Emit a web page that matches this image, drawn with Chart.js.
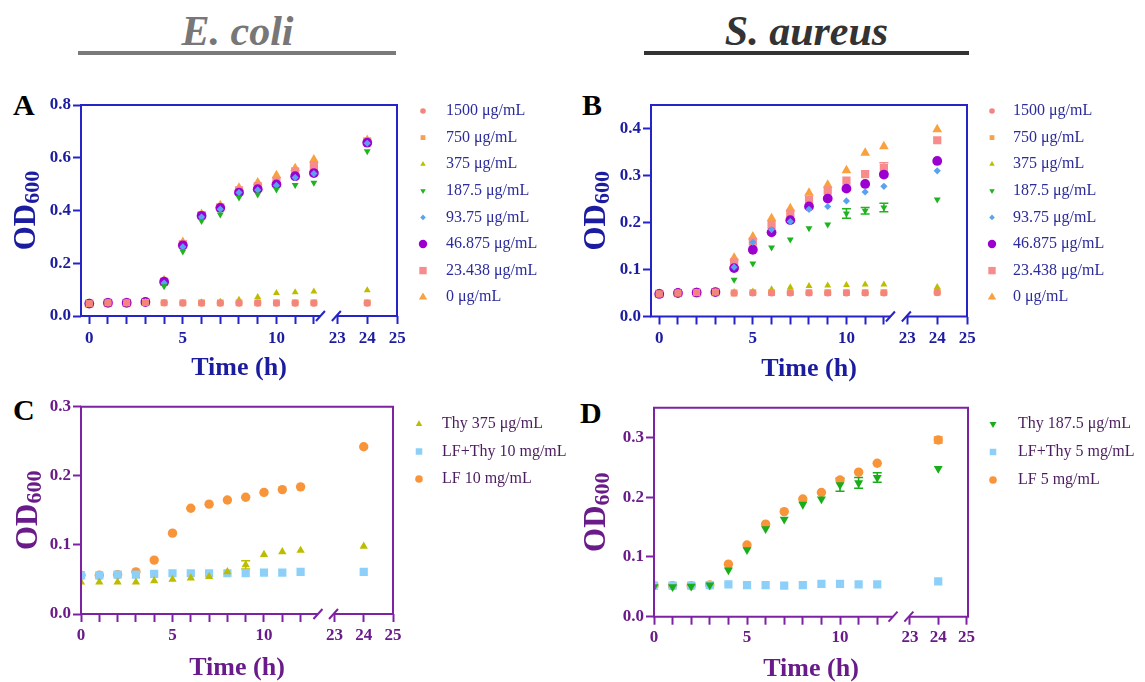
<!DOCTYPE html>
<html>
<head>
<meta charset="utf-8">
<script src="https://cdn.jsdelivr.net/npm/chart.js@4.4.1/dist/chart.umd.min.js"></script>
<style>
  body { margin: 0; background: #fff; width: 1145px; height: 682px; position: relative; overflow: hidden;
         font-family: "Liberation Serif", "Times New Roman", serif; }
  canvas { position: absolute; }
  .head { position: absolute; top: 10px; font-weight: bold; font-style: italic; font-size: 42px; line-height: 42px; text-align: center; }
  .rule { position: absolute; top: 51px; height: 4px; }
  .tag { position: absolute; font-weight: bold; font-size: 30px; line-height: 30px; color: #000; }
</style>
</head>
<body>
<div class="head" style="left:78px;width:319px;color:#777">E. coli</div>
<div class="rule" style="left:78px;width:318px;background:#7a7a7a"></div>
<div class="head" style="left:644px;width:325px;color:#333">S. aureus</div>
<div class="rule" style="left:644px;width:325px;background:#333"></div>
<div class="tag" style="left:13px;top:90px">A</div>
<div class="tag" style="left:582px;top:90px">B</div>
<div class="tag" style="left:13px;top:395px">C</div>
<div class="tag" style="left:580px;top:398px">D</div>

<canvas id="chartA" width="570" height="300" style="left:0;top:90px"></canvas>
<canvas id="chartB" width="575" height="300" style="left:570px;top:90px"></canvas>
<canvas id="chartC" width="570" height="292" style="left:0;top:390px"></canvas>
<canvas id="chartD" width="575" height="292" style="left:570px;top:390px"></canvas>

<script>
// sampling times (h) and x axis ticks
const hours = [0, 1, 2, 3, 4, 5, 6, 7, 8, 9, 10, 11, 12, 24];
const tickHours = [0, 1, 2, 3, 4, 5, 6, 7, 8, 9, 10, 11, 12, 23, 24, 25];
const labelHours = [0, 5, 10, 23, 24, 25];

// A: E. coli, thymol doses
const doseNames = ['1500 μg/mL', '750 μg/mL', '375 μg/mL', '187.5 μg/mL', '93.75 μg/mL', '46.875 μg/mL', '23.438 μg/mL', '0 μg/mL'];
const ecoli1500 = [0.047, 0.050, 0.050, 0.051, 0.050, 0.049, 0.049, 0.049, 0.049, 0.049, 0.049, 0.049, 0.049, 0.049];
const ecoli750 = [0.047, 0.050, 0.050, 0.052, 0.050, 0.050, 0.050, 0.050, 0.050, 0.050, 0.050, 0.050, 0.050, 0.050];
const ecoli375 = [0.047, 0.050, 0.050, 0.053, 0.050, 0.050, 0.052, 0.054, 0.062, 0.072, 0.087, 0.090, 0.093, 0.098];
const ecoli187 = [0.047, 0.050, 0.050, 0.053, 0.113, 0.245, 0.360, 0.385, 0.449, 0.461, 0.480, 0.497, 0.505, 0.625];
const ecoli93 = [0.047, 0.050, 0.050, 0.053, 0.125, 0.262, 0.375, 0.405, 0.468, 0.478, 0.495, 0.525, 0.540, 0.655];
const ecoli46 = [0.047, 0.050, 0.050, 0.053, 0.130, 0.268, 0.380, 0.410, 0.468, 0.481, 0.499, 0.530, 0.542, 0.657];
const ecoli23 = [0.047, 0.050, 0.050, 0.053, 0.130, 0.272, 0.382, 0.412, 0.476, 0.492, 0.512, 0.548, 0.570, 0.662];
const ecoli0 = [0.047, 0.050, 0.050, 0.053, 0.135, 0.280, 0.386, 0.420, 0.486, 0.506, 0.533, 0.560, 0.593, 0.667];
const ecoliTicksY = [0, 0.2, 0.4, 0.6, 0.8];

// B: S. aureus, thymol doses
const saur1500 = [0.048, 0.050, 0.051, 0.052, 0.050, 0.050, 0.050, 0.050, 0.050, 0.050, 0.050, 0.050, 0.050, 0.051];
const saur750 = [0.048, 0.050, 0.051, 0.052, 0.050, 0.051, 0.051, 0.051, 0.051, 0.051, 0.051, 0.051, 0.051, 0.052];
const saur375 = [0.048, 0.050, 0.051, 0.052, 0.052, 0.053, 0.058, 0.062, 0.065, 0.066, 0.067, 0.068, 0.068, 0.063];
const saur187 = [0.048, 0.050, 0.051, 0.052, 0.078, 0.113, 0.147, 0.164, 0.188, 0.196, 0.219, 0.225, 0.232, 0.249];
const saur93 = [0.048, 0.050, 0.051, 0.052, 0.105, 0.158, 0.185, 0.202, 0.228, 0.234, 0.246, 0.265, 0.277, 0.310];
const saur46 = [0.048, 0.050, 0.051, 0.052, 0.103, 0.142, 0.179, 0.205, 0.234, 0.251, 0.272, 0.282, 0.302, 0.331];
const saur23 = [0.048, 0.050, 0.051, 0.052, 0.115, 0.159, 0.195, 0.219, 0.248, 0.268, 0.289, 0.303, 0.316, 0.375];
const saur0 = [0.048, 0.050, 0.051, 0.052, 0.125, 0.170, 0.209, 0.230, 0.263, 0.280, 0.311, 0.348, 0.362, 0.398];
const saur187Err = [0, 0, 0, 0, 0, 0, 0, 0, 0, 0, 0.010, 0.007, 0.009, 0];
const saur23Err = [0, 0, 0, 0, 0, 0, 0, 0, 0, 0, 0, 0, 0.011, 0];
const saurTicksY = [0, 0.1, 0.2, 0.3, 0.4];

// C: E. coli, combination
const comboNamesC = ['Thy 375 μg/mL', 'LF+Thy 10 mg/mL', 'LF 10 mg/mL'];
const ecoliThy = [0.046, 0.046, 0.046, 0.046, 0.048, 0.050, 0.052, 0.054, 0.061, 0.071, 0.086, 0.090, 0.092, 0.098];
const ecoliMix = [0.056, 0.056, 0.057, 0.057, 0.058, 0.059, 0.059, 0.059, 0.059, 0.059, 0.060, 0.060, 0.061, 0.061];
const ecoliLF = [0.056, 0.056, 0.057, 0.061, 0.078, 0.117, 0.153, 0.159, 0.165, 0.169, 0.176, 0.180, 0.184, 0.242];
const ecoliThyErr = [0, 0, 0, 0, 0, 0, 0, 0, 0, 0.006, 0, 0, 0, 0];
const comboTicksC = [0, 0.1, 0.2, 0.3];

// D: S. aureus, combination
const comboNamesD = ['Thy 187.5 μg/mL', 'LF+Thy 5 mg/mL', 'LF 5 mg/mL'];
const saurThy = [0.050, 0.050, 0.051, 0.053, 0.078, 0.112, 0.147, 0.163, 0.188, 0.197, 0.221, 0.224, 0.233, 0.248];
const saurMix = [0.052, 0.052, 0.052, 0.053, 0.054, 0.053, 0.053, 0.052, 0.053, 0.055, 0.055, 0.054, 0.054, 0.059];
const saurLF = [0.052, 0.052, 0.052, 0.053, 0.088, 0.120, 0.155, 0.176, 0.197, 0.208, 0.229, 0.242, 0.257, 0.296];
const saurThyErr = [0, 0, 0, 0, 0, 0, 0, 0, 0, 0, 0.011, 0.009, 0.008, 0];
const saurLFErr = [0, 0, 0, 0, 0, 0, 0, 0, 0, 0, 0, 0, 0, 0.005];
const comboTicksD = [0, 0.1, 0.2, 0.3];

// marker styles (r = plot radius, lr = legend radius)
const doseStyles = [
  { color: '#f3857e', shape: 'circle', r: 3.6, lr: 2.8 },
  { color: '#f7a04e', shape: 'rect', r: 4.8, lr: 3.4 },
  { color: '#bdbd00', shape: 'triangle', r: 4.0, lr: 3.2 },
  { color: '#1fb31f', shape: 'triangle', rot: 180, r: 4.0, lr: 3.2 },
  { color: '#5aa2f0', shape: 'rectRot', r: 3.6, lr: 2.8 },
  { color: '#9b00d0', shape: 'circle', r: 4.9, lr: 4.2 },
  { color: '#f88b8b', shape: 'rect', r: 5.8, lr: 5.2 },
  { color: '#f9a03f', shape: 'triangle', r: 5.6, lr: 4.8 }
];
const comboStylesC = [
  { color: '#bcbc00', shape: 'triangle', r: 4.8, lr: 3.8 },
  { color: '#8ccff8', shape: 'rect', r: 5.8, lr: 4.6 },
  { color: '#f8953a', shape: 'circle', r: 4.7, lr: 3.8 }
];
const comboStylesD = [
  { color: '#1aad1a', shape: 'triangle', rot: 180, r: 5.2, lr: 4.0 },
  { color: '#8ccff8', shape: 'rect', r: 5.8, lr: 4.6 },
  { color: '#f8953a', shape: 'circle', r: 4.7, lr: 3.8 }
];

const blueTheme = { frame: '#2424c8', text: '#1c1ca0', legend: '#2b2b9b' };
const purpleTheme = { frame: '#7d22a3', text: '#6a1b8a', legend: '#4b1d5e' };
const serif = '"Liberation Serif", "Times New Roman", serif';

// frame with broken bottom axis, y title with subscript, legend, error bars
const panelDeco = {
  id: 'panelDeco',
  beforeDatasetsDraw(chart) {
    const ctx = chart.ctx, xs = chart.scales.x, ys = chart.scales.y;
    ctx.save();
    ctx.lineWidth = 1.5;
    chart.data.datasets.forEach(ds => {
      if (!ds.err) return;
      ctx.strokeStyle = ds.backgroundColor;
      ds.data.forEach((p, i) => {
        const e = ds.err[i];
        if (!e) return;
        const x = xs.getPixelForValue(p.x);
        const y1 = ys.getPixelForValue(p.y - e), y2 = ys.getPixelForValue(p.y + e);
        ctx.beginPath();
        ctx.moveTo(x, y1); ctx.lineTo(x, y2);
        ctx.moveTo(x - 4.5, y1); ctx.lineTo(x + 4.5, y1);
        ctx.moveTo(x - 4.5, y2); ctx.lineTo(x + 4.5, y2);
        ctx.stroke();
      });
    });
    ctx.restore();
  },
  afterDraw(chart, args, o) {
    const ctx = chart.ctx, a = chart.chartArea, xs = chart.scales.x;
    ctx.save();
    // frame
    ctx.strokeStyle = o.frame;
    ctx.lineWidth = 2;
    const b1 = xs.getPixelForValue(o.breaks[0]), b2 = xs.getPixelForValue(o.breaks[1]);
    ctx.beginPath();
    ctx.moveTo(b1, a.bottom); ctx.lineTo(a.left, a.bottom); ctx.lineTo(a.left, a.top);
    ctx.lineTo(a.right, a.top); ctx.lineTo(a.right, a.bottom); ctx.lineTo(b2, a.bottom);
    ctx.stroke();
    ctx.beginPath();
    [b1, b2].forEach(b => { ctx.moveTo(b - 4.5, a.bottom + 5); ctx.lineTo(b + 4.5, a.bottom - 5); });
    ctx.stroke();

    // OD600 title
    ctx.fillStyle = o.text;
    ctx.translate(o.odX, (a.top + a.bottom) / 2);
    ctx.rotate(-Math.PI / 2);
    ctx.textBaseline = 'alphabetic';
    ctx.font = 'bold 31px ' + serif;
    const w1 = ctx.measureText('OD').width;
    ctx.font = 'bold 22px ' + serif;
    const w2 = ctx.measureText('600').width;
    ctx.fillText('600', -(w1 + w2) / 2 + w1, 4);
    ctx.font = 'bold 31px ' + serif;
    ctx.fillText('OD', -(w1 + w2) / 2, 0);
    ctx.setTransform(1, 0, 0, 1, 0, 0);

    // legend
    ctx.font = '16px ' + serif;
    ctx.textBaseline = 'middle';
    chart.data.datasets.forEach((ds, i) => {
      const y = o.legY + i * o.legStep;
      ctx.fillStyle = ds.backgroundColor;
      Chart.helpers.drawPoint(ctx, { pointStyle: ds.pointStyle, rotation: ds.rotation, radius: ds.legendRadius, borderWidth: 0 }, o.legX, y);
      ctx.fillStyle = o.legend;
      ctx.fillText(ds.label, o.legTextX, y);
    });
    ctx.restore();
  }
};

function makePanel(id, p) {
  const vx = h => h <= 13 ? h : p.seg2Start + (h - 23) * p.seg2Scale;
  const canvas = document.getElementById(id);
  const datasets = p.series.map((vals, k) => ({
    label: p.names[k],
    data: hours.map((h, i) => ({ x: vx(h), y: vals[i] })),
    err: p.err ? p.err[k] : null,
    backgroundColor: p.styles[k].color,
    borderWidth: 0,
    pointStyle: p.styles[k].shape,
    rotation: p.styles[k].rot || 0,
    pointRadius: p.styles[k].r,
    legendRadius: p.styles[k].lr
  }));
  return new Chart(canvas, {
    type: 'scatter',
    data: { datasets },
    plugins: [panelDeco],
    options: {
      responsive: false,
      animation: false,
      events: [],
      layout: { padding: { left: 0, top: p.area.top, right: canvas.width - p.area.right, bottom: 0 } },
      plugins: {
        legend: { display: false },
        tooltip: { enabled: false },
        panelDeco: {
          frame: p.theme.frame, text: p.theme.text, legend: p.theme.legend,
          breaks: p.breaks, odX: p.odX,
          legX: p.legX, legTextX: p.legTextX, legY: p.legY, legStep: p.legStep
        }
      },
      scales: {
        x: {
          type: 'linear',
          min: p.xMin, max: p.xMax,
          afterBuildTicks: s => { s.ticks = tickHours.map(h => ({ value: vx(h) })); },
          afterFit: s => { s.height = canvas.height - p.area.bottom; },
          border: { display: false },
          grid: { display: true, drawOnChartArea: false, tickLength: 8, tickColor: p.theme.frame, tickWidth: 2 },
          ticks: {
            autoSkip: false, maxRotation: 0, padding: p.xPad, color: p.theme.text,
            font: { family: serif, size: 17, weight: 'bold' },
            callback: (v, i) => labelHours.includes(tickHours[i]) ? String(tickHours[i]) : ''
          },
          title: {
            display: true, text: 'Time (h)', color: p.theme.text,
            font: { family: serif, size: 26, weight: 'bold', lineHeight: 1 },
            padding: { top: 0, bottom: p.titlePad }
          }
        },
        y: {
          min: 0, max: p.yMax,
          afterBuildTicks: s => { s.ticks = p.yTicks.map(v => ({ value: v })); },
          afterFit: s => { s.width = p.area.left; },
          border: { display: false },
          grid: { display: true, drawOnChartArea: false, tickLength: 8, tickColor: p.theme.frame, tickWidth: 2 },
          ticks: {
            padding: 2, color: p.theme.text,
            font: { family: serif, size: 17, weight: 'bold' },
            callback: v => v.toFixed(1)
          }
        }
      }
    }
  });
}

makePanel('chartA', {
  names: doseNames, styles: doseStyles,
  series: [ecoli1500, ecoli750, ecoli375, ecoli187, ecoli93, ecoli46, ecoli23, ecoli0],
  yMax: 0.8, yTicks: ecoliTicksY, theme: blueTheme,
  xMin: -0.44, xMax: 16.44, seg2Start: 13.25, seg2Scale: 1.6, breaks: [12.35, 13.2],
  area: { left: 81, top: 15, right: 397, bottom: 226 }, xPad: 4, titlePad: 9, odX: 35,
  legX: 423, legTextX: 446, legY: 21, legStep: 26.6
});

makePanel('chartB', {
  names: doseNames, styles: doseStyles,
  series: [saur1500, saur750, saur375, saur187, saur93, saur46, saur23, saur0],
  err: [null, null, null, saur187Err, null, null, saur23Err, null],
  yMax: 0.45, yTicks: saurTicksY, theme: blueTheme,
  xMin: -0.44, xMax: 16.44, seg2Start: 13.25, seg2Scale: 1.6, breaks: [12.35, 13.2],
  area: { left: 81, top: 15, right: 397, bottom: 226.5 }, xPad: 4, titlePad: 8, odX: 35,
  legX: 422, legTextX: 443, legY: 21, legStep: 26.6
});

makePanel('chartC', {
  names: comboNamesC, styles: comboStylesC,
  series: [ecoliThy, ecoliMix, ecoliLF],
  err: [ecoliThyErr, null, null],
  yMax: 0.3, yTicks: comboTicksC, theme: purpleTheme,
  xMin: 0, xMax: 17.05, seg2Start: 13.85, seg2Scale: 1.6, breaks: [12.95, 13.8],
  area: { left: 81, top: 16.7, right: 393, bottom: 224 }, xPad: 3.5, titlePad: 1, odX: 37,
  legX: 419, legTextX: 442, legY: 34, legStep: 27.5
});

makePanel('chartD', {
  names: comboNamesD, styles: comboStylesD,
  series: [saurThy, saurMix, saurLF],
  err: [saurThyErr, null, saurLFErr],
  yMax: 0.35, yTicks: comboTicksD, theme: purpleTheme,
  xMin: 0, xMax: 16.88, seg2Start: 13.76, seg2Scale: 1.52, breaks: [12.85, 13.7],
  area: { left: 84, top: 17.7, right: 398, bottom: 226.7 }, xPad: 2.5, titlePad: 0, odX: 35,
  legX: 423, legTextX: 448, legY: 34, legStep: 28
});
</script>
</body>
</html>
